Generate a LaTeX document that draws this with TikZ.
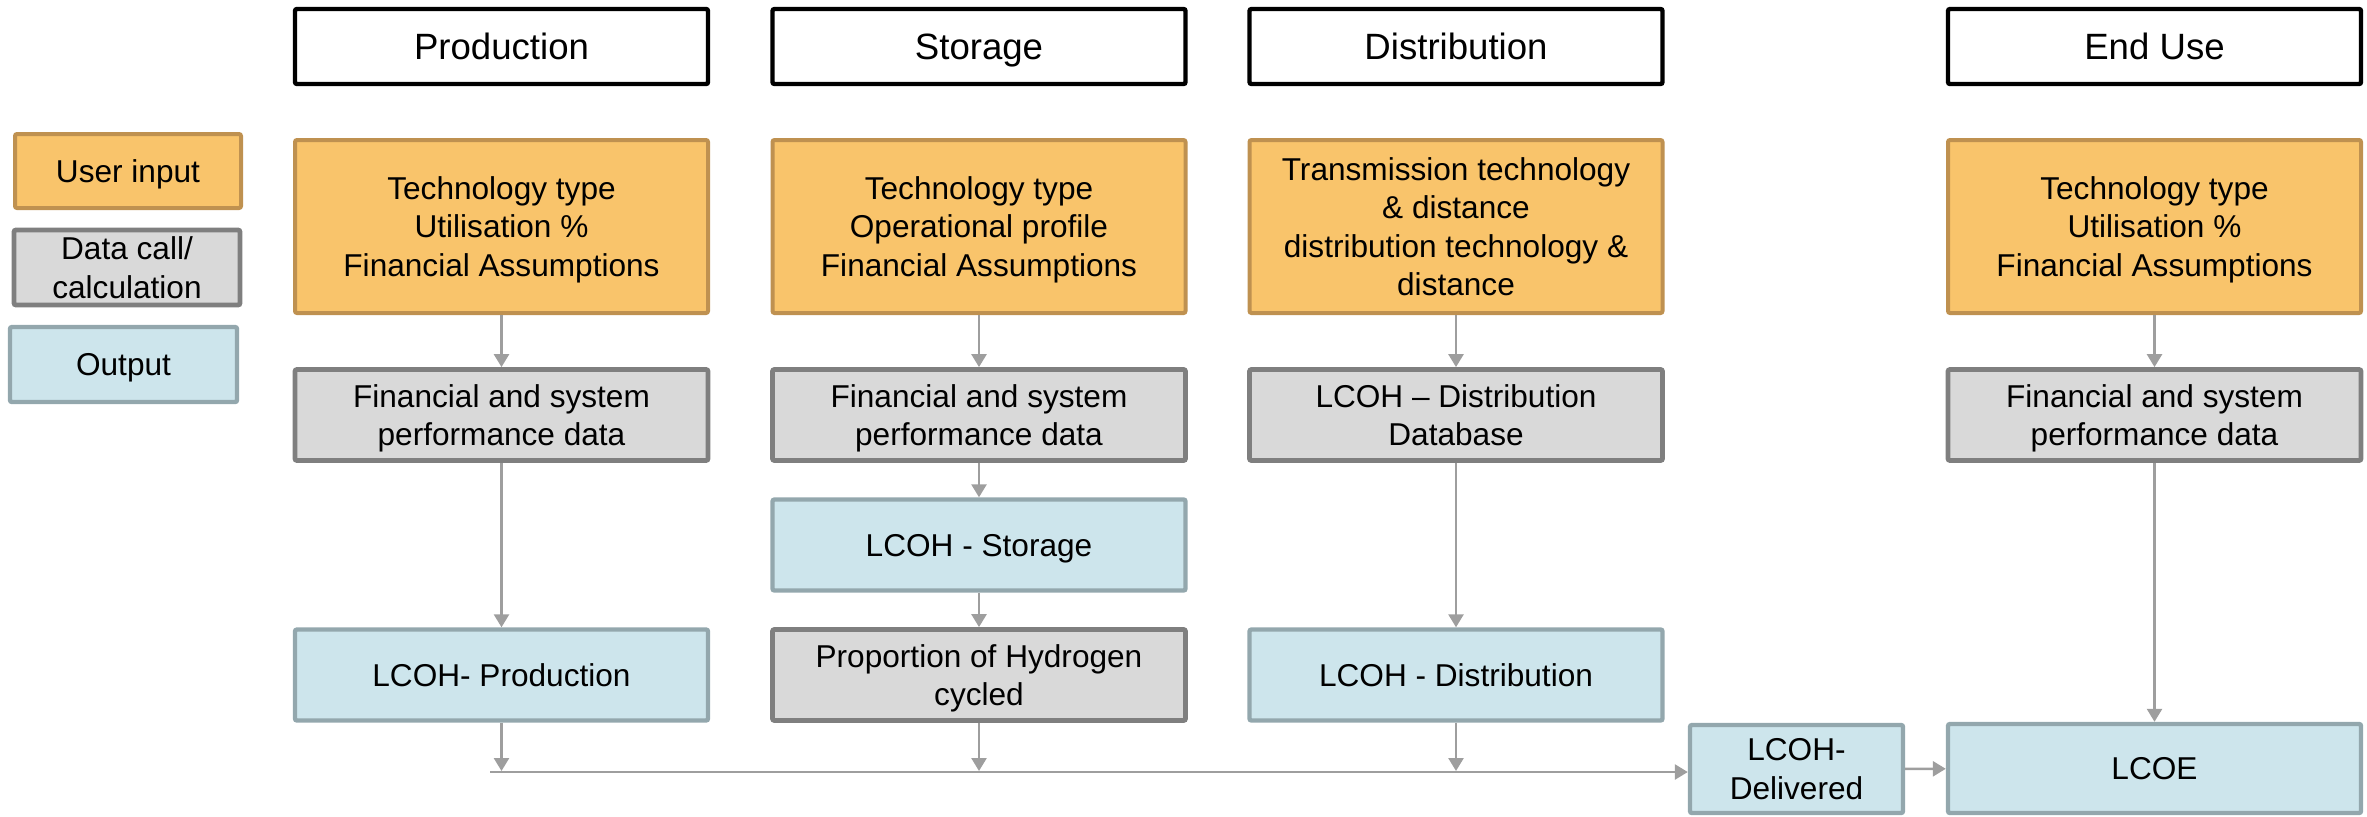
\documentclass[tikz,border=0pt]{standalone}
\usepackage{fontspec}
\setmainfont{Liberation Sans}
\usetikzlibrary{arrows.meta}

\definecolor{inputfill}{HTML}{F9C46B}
\definecolor{inputedge}{HTML}{BF9150}
\definecolor{callfill}{HTML}{D9D9D9}
\definecolor{calledge}{HTML}{7F7F7F}
\definecolor{outfill}{HTML}{CDE5EC}
\definecolor{outedge}{HTML}{93A7AD}
\definecolor{arrowgray}{HTML}{9E9E9E}

% text depth below zero lets the lines sit a little low in the boxes
\tikzstyle{box} = [rectangle, rounded corners=1pt, align=center, inner sep=2pt, text depth=-1.4pt, font=\fontsize{15.8}{19.1}\selectfont]
\tikzstyle{col} = [minimum width=206.5pt]
\tikzstyle{header} = [box, col, draw=black, fill=white, line width=2.2pt, minimum height=37.5pt, text depth=-1.3pt, font=\fontsize{18.3}{22}\selectfont]
\tikzstyle{userin} = [box, draw=inputedge, fill=inputfill, line width=2pt]
\tikzstyle{datacall} = [box, draw=calledge, fill=callfill, line width=2.4pt]
\tikzstyle{outbox} = [box, draw=outedge, fill=outfill, line width=2.2pt]
\tikzstyle{flow} = [-{Triangle[length=6.5pt, width=7.5pt]}, draw=arrowgray, line width=1.3pt]

\begin{document}
\begin{tikzpicture}[x=0.5pt, y=-0.5pt]
  \useasboundingbox (0,0) rectangle (2367,816);

  % Key
  \node[userin, minimum width=113pt, minimum height=37pt] (keyIn) at (128,171) {User input};
  \node[datacall, minimum width=113pt, minimum height=37.5pt] (keyCall) at (127,267.5) {Data call/\\calculation};
  \node[outbox, minimum width=113.5pt, minimum height=37.5pt] (keyOut) at (123.5,364.5) {Output};

  % Stage headers
  \node[header] (hProd) at (501.5,46.5) {Production};
  \node[header] (hStor) at (979,46.5) {Storage};
  \node[header] (hDist) at (1456,46.5) {Distribution};
  \node[header] (hEnd) at (2154.5,46.5) {End Use};

  % User inputs
  \node[userin, col, minimum height=86.5pt] (prodIn) at (501.5,226.5) {Technology type\\Utilisation \%\\Financial Assumptions};
  \node[userin, col, minimum height=86.5pt] (storIn) at (979,226.5) {Technology type\\Operational profile\\Financial Assumptions};
  \node[userin, col, minimum height=86.5pt] (distIn) at (1456,226.5) {Transmission technology\\\& distance\\distribution technology \&\\distance};
  \node[userin, col, minimum height=86.5pt] (endIn) at (2154.5,226.5) {Technology type\\Utilisation \%\\Financial Assumptions};

  % Data calls
  \node[datacall, col, minimum height=45.5pt] (prodData) at (501.5,415) {Financial and system\\performance data};
  \node[datacall, col, minimum height=45.5pt] (storData) at (979,415) {Financial and system\\performance data};
  \node[datacall, col, minimum height=45.5pt] (distData) at (1456,415) {LCOH -- Distribution\\Database};
  \node[datacall, col, minimum height=45.5pt] (endData) at (2154.5,415) {Financial and system\\performance data};

  % Storage chain
  \node[outbox, col, minimum height=45.5pt] (storOut) at (979,545) {LCOH - Storage};
  \node[datacall, col, minimum height=45.5pt] (storCycle) at (979,675) {Proportion of Hydrogen\\cycled};

  % Outputs
  \node[outbox, col, minimum height=45.5pt] (prodOut) at (501.5,675) {LCOH- Production};
  \node[outbox, col, minimum height=45.5pt] (distOut) at (1456,675) {LCOH - Distribution};
  \node[outbox, minimum width=106.5pt, minimum height=44pt] (deliv) at (1796.5,769) {LCOH-\\Delivered};
  \node[outbox, col, minimum height=44.5pt] (lcoe) at (2154.5,768.5) {LCOE};

  % Collecting line
  \coordinate (busStart) at (490,772);
  \coordinate (busP) at (501.5,771);
  \coordinate (busS) at (979,771);
  \coordinate (busD) at (1456,771);

  \draw[flow] (prodIn) -- (prodData);
  \draw[flow] (prodData) -- (prodOut);
  \draw[flow] (prodOut) -- (busP);

  \draw[flow] (storIn) -- (storData);
  \draw[flow] (storData) -- (storOut);
  \draw[flow] (storOut) -- (storCycle);
  \draw[flow] (storCycle) -- (busS);

  \draw[flow] (distIn) -- (distData);
  \draw[flow] (distData) -- (distOut);
  \draw[flow] (distOut) -- (busD);

  \draw[flow] (endIn) -- (endData);
  \draw[flow] (endData) -- (lcoe);

  \draw[flow] (busStart) -- (deliv.west |- busStart);
  \draw[flow] (deliv) -- (lcoe);
\end{tikzpicture}
\end{document}
